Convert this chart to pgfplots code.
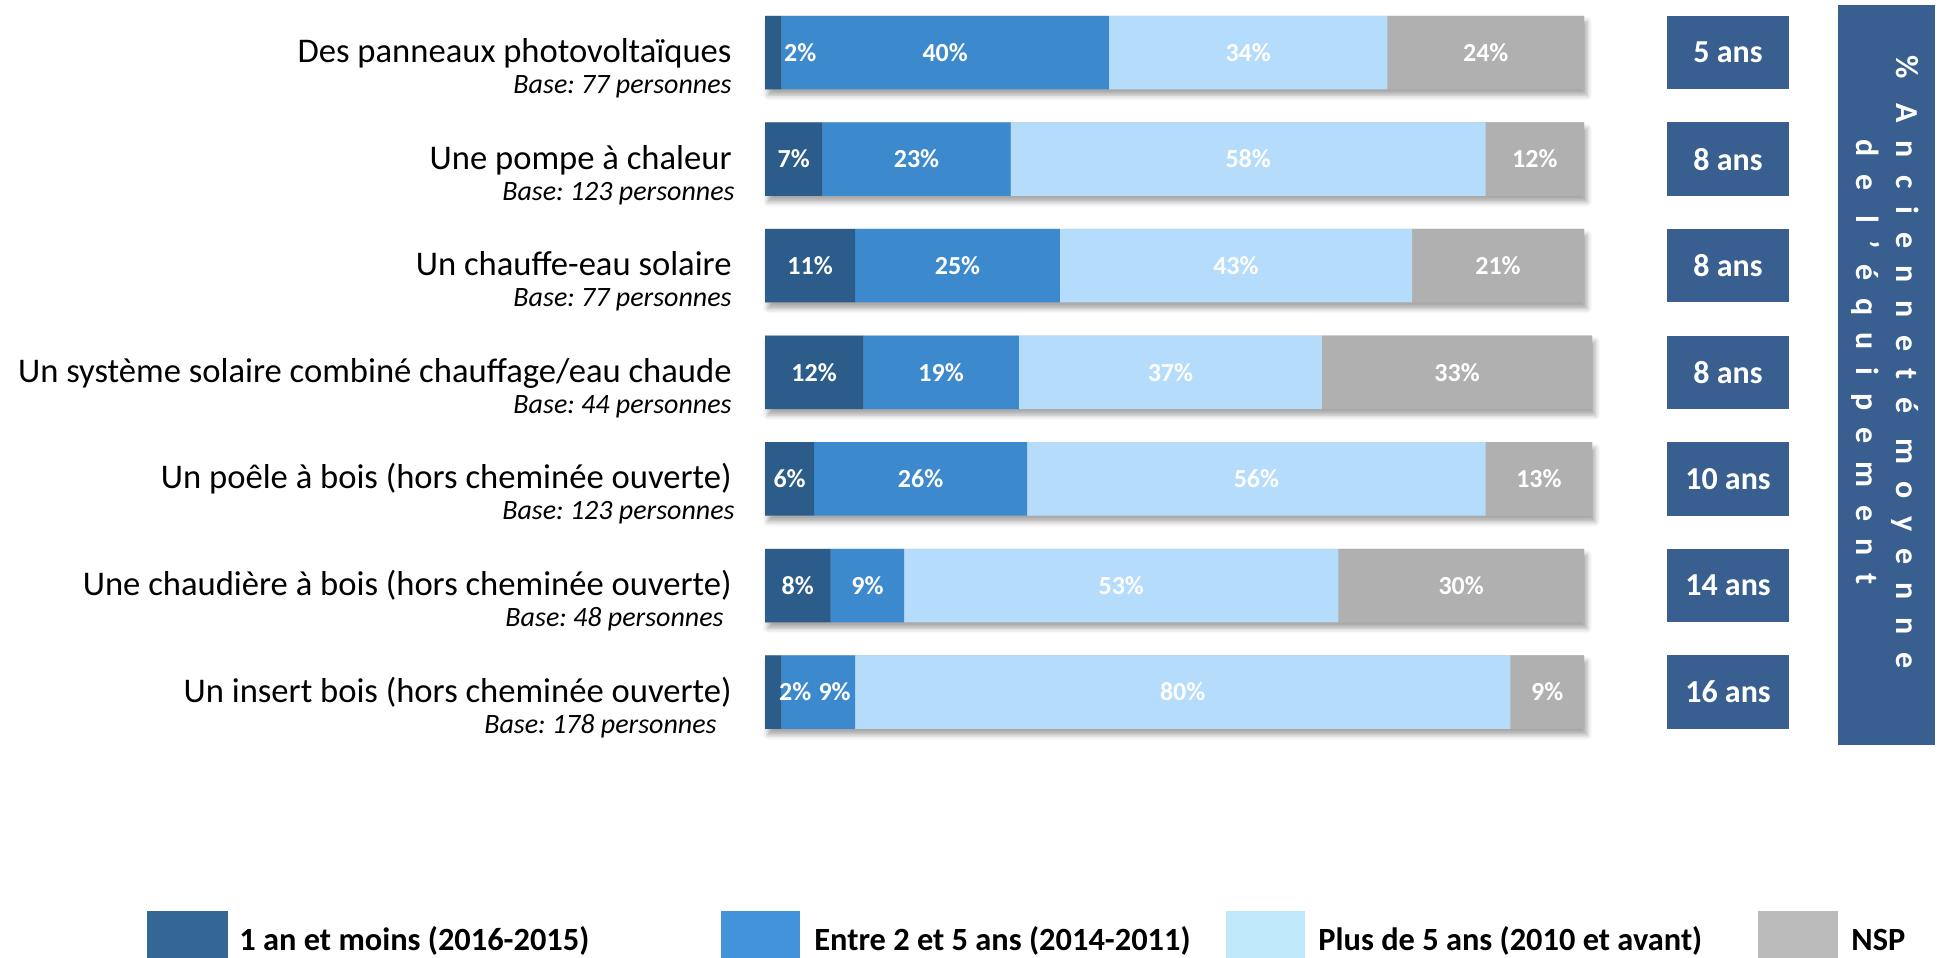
\documentclass[border=0pt]{standalone}
\usepackage{fontspec}
\setmainfont{Carlito}
\newfontfamily\spacedfont[LetterSpace=55]{Carlito}
\usepackage{pgfplots}
\usepackage{pgfplotstable}
\pgfplotsset{compat=1.18}
\usetikzlibrary{shadows.blur}
\frenchspacing
\definecolor{cA}{RGB}{43,92,138}
\definecolor{cB}{RGB}{61,137,206}
\definecolor{cC}{RGB}{182,220,251}
\definecolor{cD}{RGB}{176,176,176}
\definecolor{lA}{RGB}{52,102,150}
\definecolor{lB}{RGB}{67,147,219}
\definecolor{lC}{RGB}{191,232,251}
\definecolor{lD}{RGB}{187,187,187}
\definecolor{boxc}{RGB}{56,95,143}

\pgfplotstableread{
y a b c d t
0 2 40 34 24 100
1 7 23 58 12 100
2 11 25 43 21 100
3 12 19 37 33 101
4 6 26 56 13 101
5 8 9 53 30 100
6 2 9 80 9 100
}\bars

\pgfplotstableread{
x y v
4.3 0 2
22 0 40
59 0 34
88 0 24
3.5 1 7
18.5 1 23
59 1 58
94 1 12
5.5 2 11
23.5 2 25
57.5 2 43
89.5 2 21
6 3 12
21.5 3 19
49.5 3 37
84.5 3 33
3 4 6
19 4 26
60 4 56
94.5 4 13
4 5 8
12.5 5 9
43.5 5 53
85 5 30
3.7 6 2
8.5 6 9
51 6 80
95.5 6 9
}\labs

\begin{document}
\begin{tikzpicture}
\path[use as bounding box] (0,0) rectangle (974.5pt,479pt);
\pgfplotsset{base/.style={at={(382.5pt,106.3pt)}, anchor=south west, scale only axis,
  width=409.5pt, height=373.1pt, xmin=0, xmax=100, ymin=-0.5, ymax=6.5,
  y dir=reverse, axis lines=none, clip=false}}
% shadow layer
\begin{axis}[base, xbar, bar width=36.75pt]
\addplot[fill=cD, draw=none,
  blur shadow={shadow xshift=1.5pt, shadow yshift=-3pt, shadow blur radius=2.5pt, shadow opacity=35}]
  table[x=t,y=y]{\bars};
\end{axis}
% stacked bars
\begin{axis}[base, xbar stacked, bar width=36.75pt]
\addplot[fill=cA, draw=none] table[x=a,y=y]{\bars};
\addplot[fill=cB, draw=none] table[x=b,y=y]{\bars};
\addplot[fill=cC, draw=none] table[x=c,y=y]{\bars};
\addplot[fill=cD, draw=none] table[x=d,y=y]{\bars};
\end{axis}
% value labels
\begin{axis}[base, /pgf/number format/assume math mode=true]
\addplot[only marks, mark=*, mark size=0pt, mark options={draw=none,fill=none},
  point meta=explicit,
  nodes near coords={\pgfmathprintnumber{\pgfplotspointmeta}\%},
  nodes near coords style={anchor=center, text=white, inner sep=0pt,
    font=\bfseries\fontsize{13}{15}\selectfont}]
  table[x=x,y=y,meta=v]{\labs};
\end{axis}

\begin{scope}[x=0.5pt,y=0.5pt]
% row labels
\tikzset{ml/.style={anchor=base east, inner sep=0pt, font=\fontsize{17.3}{20}\selectfont},
         bl/.style={anchor=base east, inner sep=0pt, font=\itshape\fontsize{14}{16}\selectfont}}
\node[ml] at (732,895.5) {Des panneaux photovoltaïques};
\node[bl] at (732,864.5) {Base: 77 personnes};
\node[ml] at (732,788.9) {Une pompe à chaleur};
\node[bl] at (735,757.9) {Base: 123 personnes};
\node[ml] at (732,682.3) {Un chauffe-eau solaire};
\node[bl] at (732,651.3) {Base: 77 personnes};
\node[ml] at (732,575.7) {Un système solaire combiné chauffage/eau chaude};
\node[bl] at (732,544.7) {Base: 44 personnes};
\node[ml] at (732,469.1) {Un poêle à bois (hors cheminée ouverte)};
\node[bl] at (735,438.1) {Base: 123 personnes};
\node[ml] at (732,362.5) {Une chaudière à bois (hors cheminée ouverte)};
\node[bl] at (724,331.5) {Base: 48 personnes};
\node[ml] at (732,255.9) {Un insert bois (hors cheminée ouverte)};
\node[bl] at (717,224.9) {Base: 178 personnes};
% age boxes
\tikzset{ab/.style={fill=boxc, text=white, minimum width=61pt, minimum height=36.75pt, inner sep=0pt,
  font=\bfseries\fontsize{16}{19}\selectfont}}
\node[ab] at (1728,905.5) {5 ans};
\node[ab] at (1728,798.9) {8 ans};
\node[ab] at (1728,692.3) {8 ans};
\node[ab] at (1728,585.7) {8 ans};
\node[ab] at (1728,479.1) {10 ans};
\node[ab] at (1728,372.5) {14 ans};
\node[ab] at (1728,265.9) {16 ans};
% vertical title box
\fill[boxc] (1838,213) rectangle (1935,953);
\node[rotate=-90, align=center, text=white, inner sep=0pt,
  font=\spacedfont\bfseries\fontsize{16}{20}\selectfont] at (1885,596)
  {\% Ancienneté moyenne\\de l’équipement};
% legend
\tikzset{lt/.style={anchor=base west, inner sep=0pt, font=\bfseries\fontsize{16.2}{20}\selectfont}}
\fill[lA] (147,-20) rectangle (228,47);
\node[lt] at (239,7) {1 an et moins (2016-2015)};
\fill[lB] (721,-20) rectangle (800,47);
\node[lt] at (814,7) {Entre 2 et 5 ans (2014-2011)};
\fill[lC] (1226,-20) rectangle (1305,47);
\node[lt] at (1318,7) {Plus de 5 ans (2010 et avant)};
\fill[lD] (1758,-20) rectangle (1838,47);
\node[lt] at (1851,7) {NSP};
\end{scope}
\end{tikzpicture}
\end{document}
